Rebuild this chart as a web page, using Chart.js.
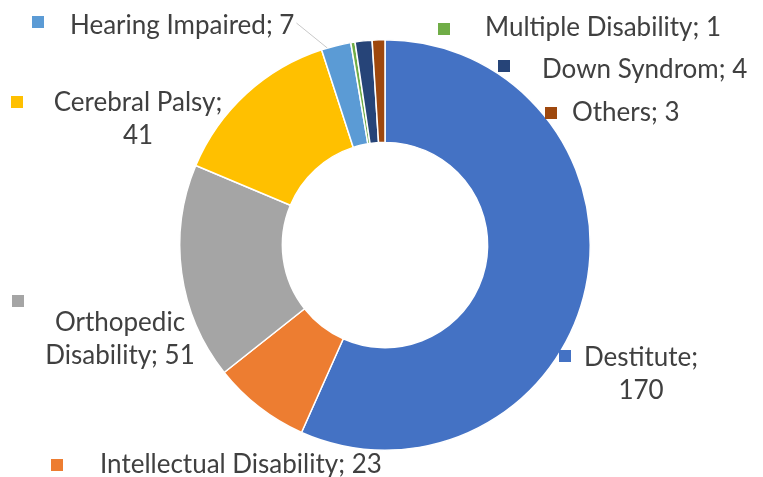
<!DOCTYPE html>
<html lang="en">
<head>
    <meta charset="UTF-8">
    <script src="https://cdn.jsdelivr.net/npm/chart.js"></script>
    <title>Disability categories</title>
    <style>
        body { margin: 0; background: #fff; }
        .box { width: 763px; height: 477px; }
    </style>
</head>
<body>
    <div class="box">
        <canvas id="graficoRosca" width="763" height="477"></canvas>
    </div>

<script>
    var categorias = ['Destitute', 'Intellectual Disability', 'Orthopedic Disability', 'Cerebral Palsy', 'Hearing Impaired', 'Multiple Disability', 'Down Syndrom', 'Others']
    var quantidades = [170, 23, 51, 41, 7, 1, 4, 3]
    var cores = ['#4472C4', '#ED7D31', '#A5A5A5', '#FFC000', '#5B9BD5', '#70AD47', '#264478', '#9E480E']

    // where each label sits (text anchor + little colour square), and how the text wraps
    var posicoes = [
        { sq: [559, 350], x: 641, y: 358, align: 'center', quebra: 1 },
        { sq: [51, 459], x: 100, y: 465, align: 'left', quebra: 0 },
        { sq: [12, 295], x: 120, y: 323, align: 'center', quebra: 1 },
        { sq: [11, 96], x: 138, y: 103, align: 'center', quebra: 2 },
        { sq: [32, 16], x: 70, y: 26, align: 'left', quebra: 0, guia: true },
        { sq: [438, 23], x: 485, y: 28, align: 'left', quebra: 0 },
        { sq: [498, 60], x: 542, y: 70, align: 'left', quebra: 0 },
        { sq: [545, 107], x: 572, y: 113, align: 'left', quebra: 0 }
    ]

    var rotulos = {
        id: 'rotulos',
        afterDatasetsDraw(chart) {
            var ctx = chart.ctx
            var arcos = chart.getDatasetMeta(0).data
            ctx.save()
            ctx.font = '26px Lato, Calibri, sans-serif'
            ctx.textBaseline = 'middle'
            posicoes.forEach((p, i) => {
                var texto = categorias[i] + '; ' + quantidades[i]
                var linhas = [texto]
                if (p.quebra > 0) {
                    var palavras = texto.split(' ')
                    linhas = [palavras.slice(0, p.quebra).join(' '), palavras.slice(p.quebra).join(' ')]
                }
                if (p.guia) {
                    var a = arcos[i]
                    var fim = a.startAngle + (a.endAngle - a.startAngle) * 0.2
                    ctx.strokeStyle = '#c8c8c8'
                    ctx.lineWidth = 1
                    ctx.beginPath()
                    ctx.moveTo(p.x + ctx.measureText(texto).width + 2, p.y - 3)
                    ctx.lineTo(a.x + Math.cos(fim) * a.outerRadius, a.y + Math.sin(fim) * a.outerRadius)
                    ctx.stroke()
                }
                ctx.fillStyle = cores[i]
                ctx.fillRect(p.sq[0], p.sq[1], 12, 12)
                ctx.fillStyle = '#404040'
                ctx.textAlign = p.align
                linhas.forEach((l, k) => {
                    ctx.fillText(l, p.x, p.y + k * 33)
                })
            })
            ctx.restore()
        }
    }

    var graficoRosca = new Chart(document.getElementById('graficoRosca').getContext('2d'), {
        type: 'doughnut',
        data: {
            labels: categorias,
            datasets: [{
                data: quantidades,
                backgroundColor: cores,
                borderColor: '#ffffff',
                borderWidth: 1.5
            }]
        },
        options: {
            responsive: false,
            animation: false,
            cutout: '50%',
            layout: {
                padding: { left: 179, right: 172, top: 39, bottom: 26 }
            },
            plugins: {
                legend: { display: false },
                tooltip: { enabled: false }
            }
        },
        plugins: [rotulos]
    });
</script>
</body>
</html>
